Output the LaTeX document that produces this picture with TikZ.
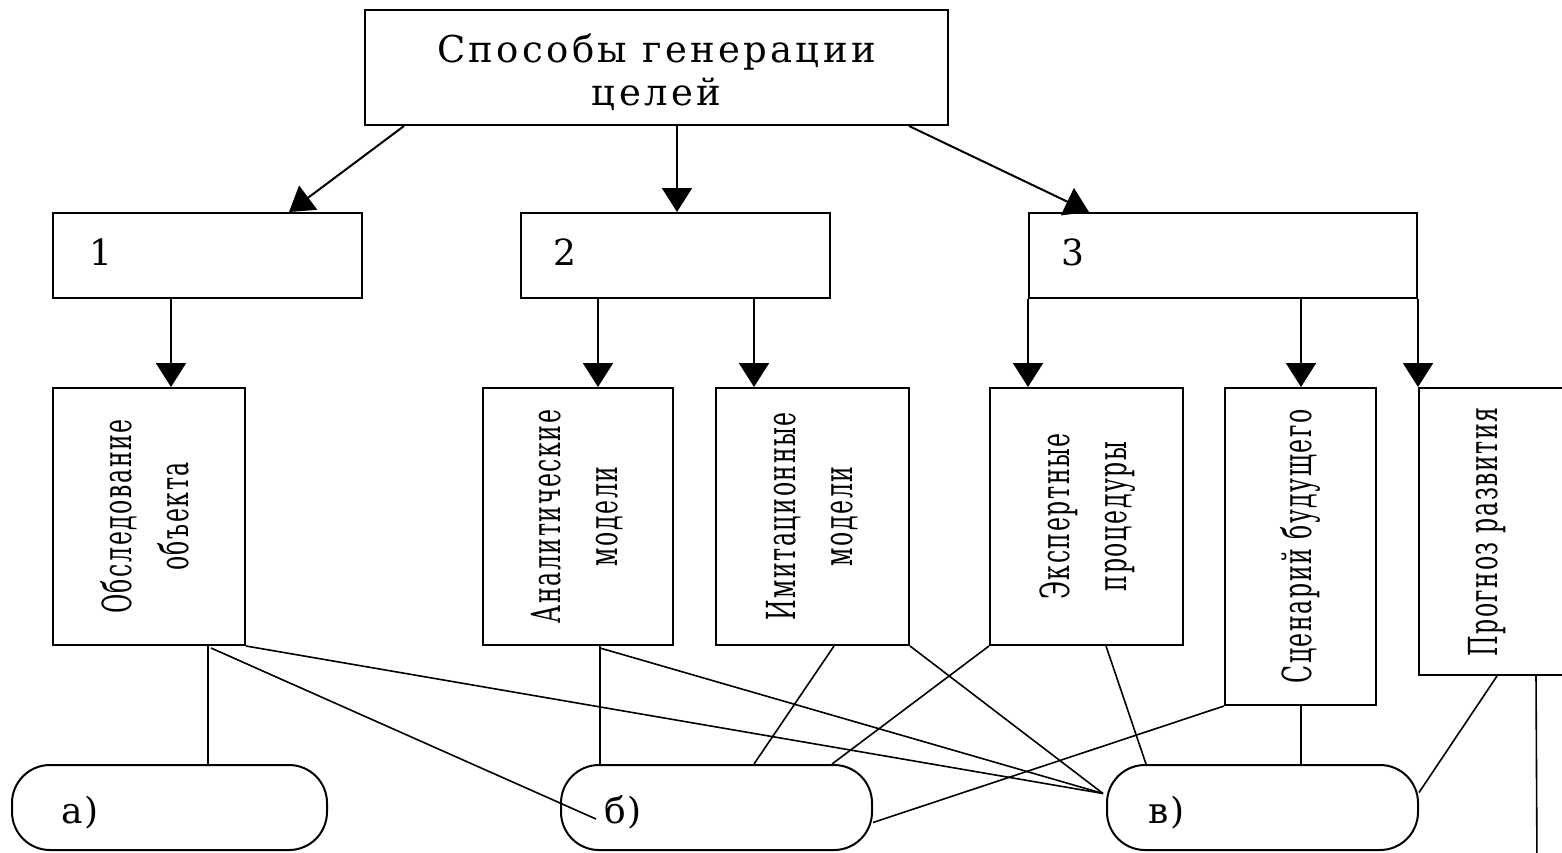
\documentclass[tikz,border=0pt]{standalone}
\usepackage{fontspec}
\usepackage{graphicx}
\usetikzlibrary{arrows.meta,calc}
\newfontfamily\mydfont[LetterSpace=9]{DejaVu Serif}
\newfontfamily\mynumfam[LetterSpace=5]{DejaVu Serif}
\newfontfamily\mydfontc[FakeStretch=0.59,LetterSpace=4]{DejaVu Serif}
\newcommand\mytopfont{\mydfont\fontsize{37}{43}\selectfont}
\newcommand\myrotfont{\mydfontc\fontsize{40}{57}\selectfont}
\newcommand\mynumfont{\mynumfam\fontsize{36}{40}\selectfont}
\newcommand\myvtext[1]{\rotatebox{90}{\begin{tabular}{@{}c@{}}#1\end{tabular}}}
\begin{document}
\begin{tikzpicture}[x=1pt,y=-1pt,
  box/.style={draw, line width=2pt, inner sep=0pt},
  oval/.style={draw, line width=2pt, inner sep=0pt, rounded corners=38pt, minimum height=85pt},
  vbox/.style={box, font=\myrotfont},
  arr/.style={line width=2pt, -{Triangle[width=30pt,length=24pt]}},
  link/.style={line width=1.6pt},
  lbl/.style={anchor=west, inner sep=0pt, font=\mynumfont}]
\useasboundingbox (0,0) rectangle (1562,852);
\fill[white] (0,0) rectangle (1562,852);
\clip (0,0) rectangle (1562,852);

% top box
\node[box, minimum width=583pt, minimum height=115pt] (top) at (656.5,67.5) {};
\node[font=\mytopfont, align=center, inner sep=0pt] (toptext) at ($(top.center)+(0,5)$) {Способы генерации\\целей};

% level 1
\node[box, minimum width=309pt, minimum height=85pt] (b1) at (207.5,255.5) {};
\node[box, minimum width=309pt, minimum height=85pt] (b2) at (675.5,255.5) {};
\node[box, minimum width=388pt, minimum height=85pt] (b3) at (1223,255.5) {};
\node[lbl] (n1) at ($(b1.west)+(37,-3)$) {1};
\node[lbl] (n2) at ($(b2.west)+(33,-3)$) {2};
\node[lbl] (n3) at ($(b3.west)+(33,-3)$) {3};

% level 2
\node[vbox, minimum width=192pt, minimum height=257pt] (obs) at (149,516.5) {\myvtext{Обследование\\объекта}};
\node[vbox, minimum width=190pt, minimum height=257pt] (ana) at (578,516.5) {\myvtext{Аналитические\\модели}};
\node[vbox, minimum width=193pt, minimum height=257pt] (imi) at (812.5,516.5) {\myvtext{Имитационные\\модели}};
\node[vbox, minimum width=193pt, minimum height=257pt] (exp) at (1086.5,516.5) {\myvtext{Экспертные\\процедуры}};
\node[vbox, minimum width=151pt, minimum height=317pt] (scn) at (1300.5,546.5) {\myvtext{Сценарий будущего}};
\node[box, minimum width=181pt, minimum height=287pt] (prg) at (1509.5,531.5) {};
\node[font=\myrotfont, inner sep=0pt] (prgt) at (1486,532) {\myvtext{Прогноз развития}};

% bottom ovals
\node[oval, minimum width=315pt] (a) at (169.5,807.5) {};
\node[oval, minimum width=311pt] (b) at (716.5,807.5) {};
\node[oval, minimum width=311pt] (c) at (1262.5,807.5) {};
\node[lbl] (la) at ($(a.west)+(50,5)$) {а)};
\node[lbl] (lb) at ($(b.west)+(44,5)$) {б)};
\node[lbl] (lc) at ($(c.west)+(42,5)$) {в)};

% arrows from top
\draw[arr] ($(top.south west)+(40,0)$) -- ($(b1.north west)+(237,0)$);
\draw[arr] ($(top.south west)+(313,0)$) -- ($(b2.north west)+(157,0)$);
\draw[arr] ($(top.south west)+(545,0)$) -- ($(b3.north west)+(61,0)$);

% arrows to level 2
\draw[arr] ($(b1.south west)+(119,0)$) -- ($(obs.north west)+(119,0)$);
\draw[arr] ($(b2.south west)+(78,0)$) -- ($(ana.north west)+(116,0)$);
\draw[arr] ($(b2.south west)+(234,0)$) -- ($(imi.north west)+(39,0)$);
\draw[arr] (b3.south west) -- ($(exp.north west)+(39,0)$);
\draw[arr] ($(b3.south west)+(273,0)$) -- ($(scn.north west)+(77,0)$);
\draw[arr] (b3.south east) -- (prg.north west);

% links to bottom
\coordinate (bot) at (1537,870);
\draw[link] ($(obs.south west)+(156,0)$) -- ($(a.north west)+(197,0)$);
\draw[link] ($(obs.south west)+(159,2)$) -- ($(b.north west)+(36,55)$);
\draw[link] (obs.south east) -- ($(c.west)+(-3,-14)$);
\draw[link] ($(ana.south west)+(118,0)$) -- ($(b.north west)+(40,0)$);
\draw[link] ($(ana.south west)+(118,2)$) -- ($(c.west)+(-3,-14)$);
\draw[link] ($(imi.south west)+(119,0)$) -- ($(b.north west)+(194,0)$);
\draw[link] (imi.south east) -- ($(c.west)+(-3,-14)$);
\draw[link] (exp.south west) -- ($(b.north west)+(272,0)$);
\draw[link] ($(exp.south west)+(117,0)$) -- ($(c.north west)+(40,0)$);
\draw[link] (scn.south west) -- ($(b.east)+(0,15)$);
\draw[link] ($(scn.south west)+(77,0)$) -- ($(c.north west)+(195,0)$);
\draw[link] ($(prg.south west)+(79,0)$) -- ($(c.east)+(0,-15)$);
\draw[link] ($(prg.south west)+(118,0)$) -- (bot);
\end{tikzpicture}
\end{document}
